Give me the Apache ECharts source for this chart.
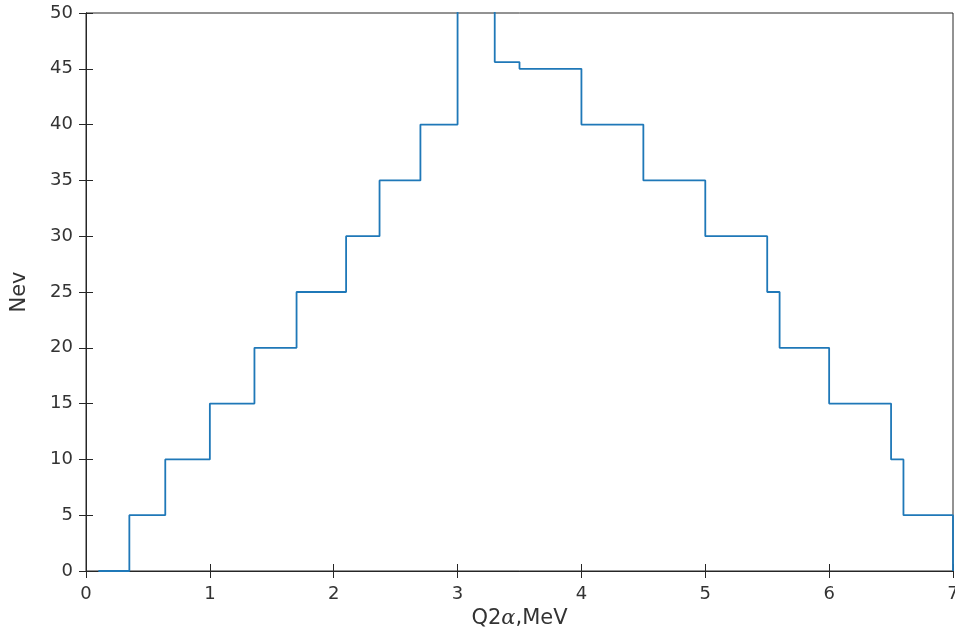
<!DOCTYPE html>
<html>
<head>
<meta charset="utf-8">
<script src="https://cdn.jsdelivr.net/npm/echarts@6/dist/echarts.min.js"></script>
<style>
  html, body { margin: 0; padding: 0; background: #fff; }
  #main { width: 955px; height: 642px; }
</style>
</head>
<body>
<div id="main"></div>
<script>
// step edges (MeV) and counts; each count holds until the next edge
var edges  = [0.1, 0.35, 0.64, 1.0, 1.36, 1.7, 2.1, 2.37, 2.7, 3.0, 3.3, 3.5, 4.0, 4.5, 5.0, 5.5, 5.6, 6.0, 6.5, 6.6, 7.0];
var counts = [0,   5,    10,   15,  20,   25,  30,  35,   40,  56,  45.6, 45, 40,  35,  30,  25,  20,  15,  10,  5,   0];
var xTicks = [0, 1, 2, 3, 4, 5, 6, 7];
var yTicks = [0, 5, 10, 15, 20, 25, 30, 35, 40, 45, 50];

var data = edges.map(function (x, i) { return [x, counts[i]]; });

var axisColor = '#262626';
var font = 'DejaVu Sans, Liberation Sans, sans-serif';
var labelStyle = { color: '#333', fontSize: 18, fontFamily: font };

var myChart = echarts.init(document.getElementById('main'));
myChart.setOption({
    animation: false,
    grid: { left: 86, right: 2, top: 13, bottom: 71, show: true, borderColor: axisColor, borderWidth: 1, outerBoundsMode: 'none', containLabel: false },
    xAxis: [{
        type: 'value',
        min: xTicks[0], max: xTicks[xTicks.length - 1], interval: 1,
        name: 'Q2{a|α},MeV',
        nameLocation: 'middle',
        nameGap: 36,
        nameTextStyle: {
            color: '#333', fontSize: 21, fontFamily: font,
            rich: { a: { fontSize: 21, fontStyle: 'italic', fontFamily: 'DejaVu Serif, serif', color: '#333' } }
        },
        axisLine: { lineStyle: { color: axisColor } },
        axisTick: { inside: true, length: 7, lineStyle: { color: axisColor } },
        axisLabel: Object.assign({ margin: 14 }, labelStyle),
        splitLine: { show: false }
    }, {
        type: 'value', position: 'top',
        min: xTicks[0], max: xTicks[xTicks.length - 1], interval: 1,
        axisLine: { lineStyle: { color: axisColor } },
        axisTick: { inside: true, length: 7, lineStyle: { color: axisColor } },
        axisLabel: { show: false },
        splitLine: { show: false }
    }],
    yAxis: [{
        type: 'value',
        min: yTicks[0], max: yTicks[yTicks.length - 1], interval: 5,
        name: 'Nev',
        nameLocation: 'middle',
        nameGap: 56,
        nameTextStyle: { color: '#333', fontSize: 21, fontFamily: font },
        axisLine: { show: true, lineStyle: { color: axisColor } },
        axisTick: { show: true, inside: true, length: 7, lineStyle: { color: axisColor } },
        axisLabel: Object.assign({ margin: 13 }, labelStyle),
        splitLine: { show: false }
    }, {
        type: 'value', position: 'right',
        min: yTicks[0], max: yTicks[yTicks.length - 1], interval: 5,
        axisLine: { show: true, lineStyle: { color: axisColor } },
        axisTick: { show: true, inside: true, length: 7, lineStyle: { color: axisColor } },
        axisLabel: { show: false },
        splitLine: { show: false }
    }],
    series: [{
        type: 'line',
        step: 'end',
        data: data,
        symbol: 'none',
        clip: true,
        lineStyle: { color: '#1f78b8', width: 1.8 }
    }]
});
</script>
</body>
</html>
